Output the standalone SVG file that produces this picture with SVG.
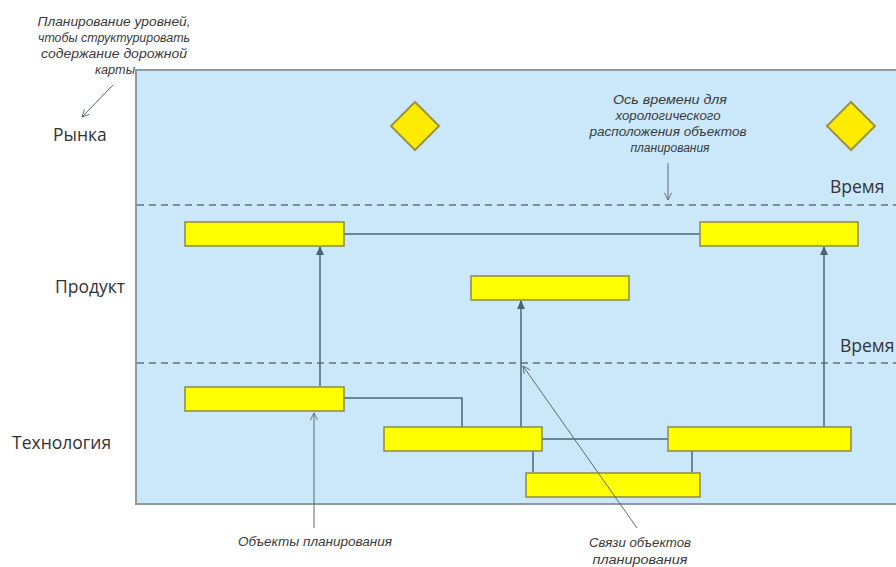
<svg xmlns="http://www.w3.org/2000/svg" width="896" height="567" viewBox="0 0 896 567">
<defs>
<style>
.bar{fill:#ffff00;stroke:#8c8a45;stroke-width:1.5}
.dia{fill:#ffeb00;stroke:#9a9440;stroke-width:2}
.con{fill:none;stroke:#4b6474;stroke-width:1.5}
.ann{fill:none;stroke:#5c6870;stroke-width:1}
.dash{fill:none;stroke:#7c8e9a;stroke-width:2;stroke-dasharray:7 5}
.lbl{font-family:"Open Sans","Liberation Sans",sans-serif;font-size:17.5px;fill:#333}
.note{font-family:"Liberation Sans",sans-serif;font-style:italic;font-size:12px;fill:#3a3a3a;text-anchor:middle}
</style>
<marker id="tip" viewBox="0 0 8 8" refX="7" refY="4" markerWidth="6" markerHeight="6" orient="auto">
<path d="M0,0.5 L8,4 L0,7.5 Z" fill="#4b6474"/>
</marker>
<marker id="open" viewBox="0 0 10 10" refX="9" refY="5" markerWidth="9" markerHeight="9" orient="auto">
<path d="M1,1 L9,5 L1,9" fill="none" stroke="#5c6870" stroke-width="1"/>
</marker>
</defs>
<rect width="896" height="567" fill="#ffffff"/>
<g id="panel">
<rect x="136" y="70" width="770" height="434" fill="#cbe8fb" stroke="#8d9aa2" stroke-width="2"/>
<line class="dash" x1="137" y1="205" x2="896" y2="205"/>
<line class="dash" x1="137" y1="363" x2="896" y2="363"/>
</g>
<g id="labels">
<text class="lbl" x="53" y="141">Рынка</text>
<text class="lbl" x="55" y="293">Продукт</text>
<text class="lbl" x="12" y="449">Технология</text>
<text class="lbl" x="830" y="193">Время</text>
<text class="lbl" x="840" y="352">Время</text>
</g>
<g id="connectors">
<line class="con" x1="344" y1="234" x2="700" y2="234"/>
<line class="con" x1="320" y1="386" x2="320" y2="247" marker-end="url(#tip)"/>
<line class="con" x1="521" y1="427" x2="521" y2="301" marker-end="url(#tip)"/>
<line class="con" x1="824" y1="427" x2="824" y2="247" marker-end="url(#tip)"/>
<polyline class="con" points="344,398 462,398 462,427"/>
<line class="con" x1="542" y1="439" x2="668" y2="439"/>
<line class="con" x1="533" y1="451" x2="533" y2="472"/>
<line class="con" x1="692" y1="451" x2="692" y2="472"/>
</g>
<g id="m1"><polygon class="dia" points="415,102 439,126 415,150 391,126"/></g>
<g id="m2"><polygon class="dia" points="851,102 875,126 851,150 827,126"/></g>
<g id="p1"><rect class="bar" x="185" y="222" width="159" height="24"/></g>
<g id="p2"><rect class="bar" x="700" y="222" width="158" height="24"/></g>
<g id="p3"><rect class="bar" x="471" y="276" width="158" height="24"/></g>
<g id="t1"><rect class="bar" x="185" y="387" width="159" height="24"/></g>
<g id="t2"><rect class="bar" x="384" y="427" width="158" height="24"/></g>
<g id="t3"><rect class="bar" x="668" y="427" width="183" height="24"/></g>
<g id="t4"><rect class="bar" x="526" y="473" width="174" height="24"/></g>
<g id="annotations">
<text class="note" x="114" y="26" textLength="153" lengthAdjust="spacingAndGlyphs">Планирование уровней,</text>
<text class="note" x="114" y="42" textLength="152" lengthAdjust="spacingAndGlyphs">чтобы структурировать</text>
<text class="note" x="114" y="58" textLength="146" lengthAdjust="spacingAndGlyphs">содержание дорожной</text>
<text class="note" x="115" y="74" textLength="40" lengthAdjust="spacingAndGlyphs">карты</text>
<line class="ann" x1="113" y1="85" x2="82" y2="117" marker-end="url(#open)"/>
<text class="note" x="670" y="104" textLength="114" lengthAdjust="spacingAndGlyphs">Ось времени для</text>
<text class="note" x="668" y="120" textLength="105" lengthAdjust="spacingAndGlyphs">хорологического</text>
<text class="note" x="668" y="136" textLength="157" lengthAdjust="spacingAndGlyphs">расположения объектов</text>
<text class="note" x="670" y="152">планирования</text>
<line class="ann" x1="668" y1="163" x2="668" y2="200" marker-end="url(#open)"/>
<text class="note" x="315" y="546" textLength="154" lengthAdjust="spacingAndGlyphs">Объекты планирования</text>
<line class="ann" x1="314" y1="528" x2="314" y2="413" marker-end="url(#open)"/>
<text class="note" x="640" y="547" textLength="102" lengthAdjust="spacingAndGlyphs">Связи объектов</text>
<text class="note" x="640" y="564" textLength="95" lengthAdjust="spacingAndGlyphs">планирования</text>
<line class="ann" x1="637" y1="528" x2="523" y2="366" marker-end="url(#open)"/>
</g>
</svg>
